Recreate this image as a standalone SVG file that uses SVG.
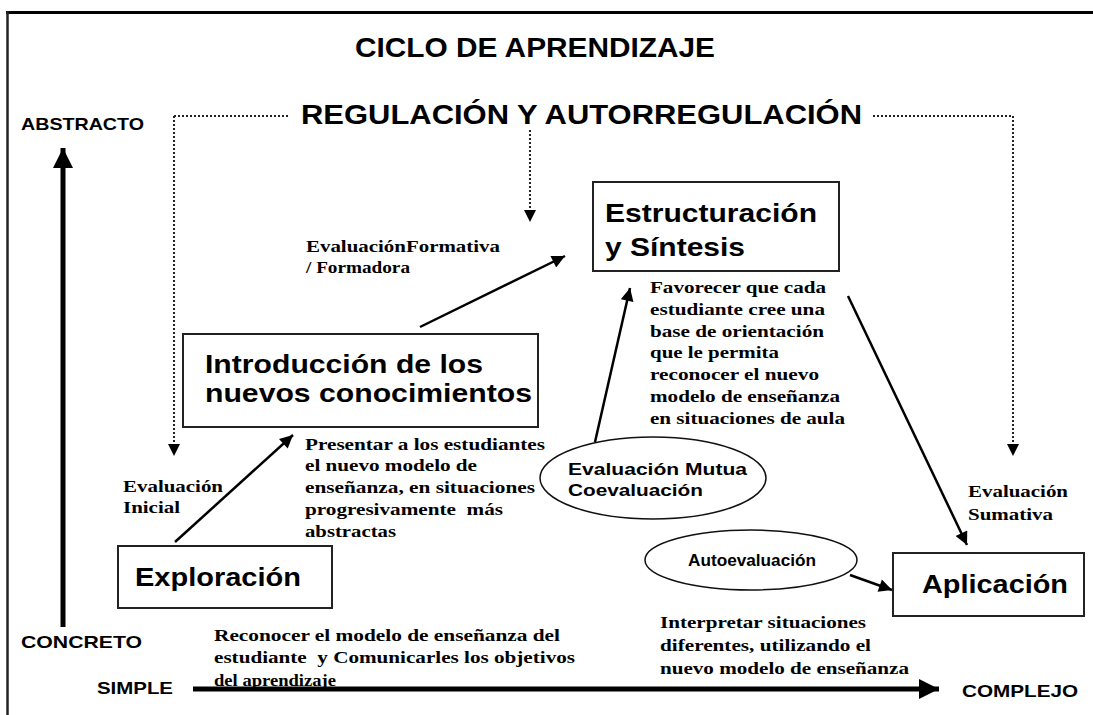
<svg xmlns="http://www.w3.org/2000/svg" width="1093" height="715" viewBox="0 0 1093 715">
<style>
.h{font-family:"Liberation Sans",Arial,sans-serif;font-weight:bold;fill:#000}
.t{font-family:"Liberation Serif","Times New Roman",serif;font-weight:bold;fill:#000;font-size:17px}
.box{fill:#fff;stroke:#222;stroke-width:2}
.ell{fill:#fff;stroke:#111;stroke-width:1.5}
.sol{stroke:#000;stroke-width:2.5;fill:none}
.dot{stroke:#222;stroke-width:2;stroke-dasharray:2 2;fill:none}
</style>
<defs>
<marker id="ah" viewBox="0 0 10 10" refX="10" refY="5" markerUnits="userSpaceOnUse" markerWidth="15" markerHeight="13" orient="auto"><path d="M0,0 L10,5 L0,10 Z" fill="#000"/></marker>
<marker id="dh" viewBox="0 0 10 10" refX="10" refY="5" markerUnits="userSpaceOnUse" markerWidth="12" markerHeight="12" orient="auto"><path d="M0,0 L10,5 L0,10 Z" fill="#000"/></marker>
<marker id="bh" viewBox="0 0 10 10" refX="10" refY="5" markerUnits="userSpaceOnUse" markerWidth="20" markerHeight="22" orient="auto"><path d="M0,0 L10,5 L0,10 Z" fill="#000"/></marker>
</defs>
<rect width="1093" height="715" fill="#fff"/>
<g id="frame">
<line x1="6" y1="12.5" x2="1093" y2="12.5" stroke="#000" stroke-width="3"/>
<line x1="7.5" y1="11" x2="7.5" y2="715" stroke="#222" stroke-width="2.5"/>
</g>
<g id="titles">
<text class="h" x="355" y="57" font-size="27" textLength="360" lengthAdjust="spacingAndGlyphs">CICLO  DE  APRENDIZAJE</text>
<text class="h" x="301" y="124" font-size="27" textLength="561" lengthAdjust="spacingAndGlyphs">REGULACIÓN  Y  AUTORREGULACIÓN</text>
</g>
<g id="axes-labels">
<text class="h" x="21" y="130" font-size="17" textLength="123" lengthAdjust="spacingAndGlyphs">ABSTRACTO</text>
<text class="h" x="21" y="648" font-size="17" textLength="121" lengthAdjust="spacingAndGlyphs">CONCRETO</text>
<text class="h" x="97" y="694" font-size="17" textLength="76" lengthAdjust="spacingAndGlyphs">SIMPLE</text>
<text class="h" x="962" y="697" font-size="17" textLength="116" lengthAdjust="spacingAndGlyphs">COMPLEJO</text>
</g>
<g id="annotations">
<text class="t" x="306" y="252" textLength="194" lengthAdjust="spacingAndGlyphs">EvaluaciónFormativa</text>
<text class="t" x="306" y="273" textLength="104" lengthAdjust="spacingAndGlyphs">/ Formadora</text>
<text class="t" x="123" y="492" textLength="100" lengthAdjust="spacingAndGlyphs">Evaluación</text>
<text class="t" x="123" y="513" textLength="57" lengthAdjust="spacingAndGlyphs">Inicial</text>
<text class="t" x="968" y="497" textLength="100" lengthAdjust="spacingAndGlyphs">Evaluación</text>
<text class="t" x="968" y="520" textLength="85" lengthAdjust="spacingAndGlyphs">Sumativa</text>
<text class="t" x="305" y="450" textLength="240" lengthAdjust="spacingAndGlyphs">Presentar a los estudiantes</text>
<text class="t" x="305" y="471" textLength="172" lengthAdjust="spacingAndGlyphs">el nuevo modelo de</text>
<text class="t" x="305" y="493" textLength="230" lengthAdjust="spacingAndGlyphs">enseñanza, en situaciones</text>
<text class="t" x="305" y="515" textLength="198" lengthAdjust="spacingAndGlyphs" xml:space="preserve">progresivamente  más</text>
<text class="t" x="305" y="537" textLength="91" lengthAdjust="spacingAndGlyphs">abstractas</text>
<text class="t" x="650" y="293" textLength="176" lengthAdjust="spacingAndGlyphs">Favorecer que cada</text>
<text class="t" x="650" y="315" textLength="175" lengthAdjust="spacingAndGlyphs">estudiante cree una</text>
<text class="t" x="650" y="337" textLength="174" lengthAdjust="spacingAndGlyphs">base de orientación</text>
<text class="t" x="650" y="358" textLength="129" lengthAdjust="spacingAndGlyphs">que le permita</text>
<text class="t" x="650" y="380" textLength="169" lengthAdjust="spacingAndGlyphs">reconocer el nuevo</text>
<text class="t" x="650" y="402" textLength="190" lengthAdjust="spacingAndGlyphs">modelo de enseñanza</text>
<text class="t" x="650" y="424" textLength="195" lengthAdjust="spacingAndGlyphs">en situaciones de aula</text>
<text class="t" x="214" y="641" textLength="346" lengthAdjust="spacingAndGlyphs">Reconocer el modelo de enseñanza del</text>
<text class="t" x="214" y="663" textLength="361" lengthAdjust="spacingAndGlyphs" xml:space="preserve">estudiante  y Comunicarles los objetivos</text>
<text class="t" x="214" y="686" textLength="122" lengthAdjust="spacingAndGlyphs">del aprendizaje</text>
<text class="t" x="660" y="628" textLength="206" lengthAdjust="spacingAndGlyphs">Interpretar situaciones</text>
<text class="t" x="660" y="651" textLength="211" lengthAdjust="spacingAndGlyphs">diferentes, utilizando el</text>
<text class="t" x="660" y="674" textLength="249" lengthAdjust="spacingAndGlyphs">nuevo modelo de enseñanza</text>
</g>
<g id="node-estructuracion">
<rect class="box" x="593" y="182" width="246" height="89"/>
<text class="h" x="605" y="222" font-size="26" textLength="212" lengthAdjust="spacingAndGlyphs">Estructuración</text>
<text class="h" x="605" y="256" font-size="26" textLength="140" lengthAdjust="spacingAndGlyphs">y Síntesis</text>
</g>
<g id="node-introduccion">
<rect class="box" x="183" y="334" width="355" height="93"/>
<text class="h" x="205" y="373" font-size="26" textLength="278" lengthAdjust="spacingAndGlyphs">Introducción de los</text>
<text class="h" x="205" y="402" font-size="26" textLength="327" lengthAdjust="spacingAndGlyphs">nuevos conocimientos</text>
</g>
<g id="node-exploracion">
<rect class="box" x="118" y="546" width="214" height="62"/>
<text class="h" x="135" y="586" font-size="26" textLength="166" lengthAdjust="spacingAndGlyphs">Exploración</text>
</g>
<g id="node-aplicacion">
<rect class="box" x="893" y="553" width="191" height="63"/>
<text class="h" x="922" y="593" font-size="26" textLength="146" lengthAdjust="spacingAndGlyphs">Aplicación</text>
</g>
<g id="node-evaluacion-mutua">
<ellipse class="ell" cx="653" cy="478" rx="113" ry="41"/>
<text class="h" x="568" y="475" font-size="17" textLength="179" lengthAdjust="spacingAndGlyphs">Evaluación Mutua</text>
<text class="h" x="568" y="496" font-size="17" textLength="135" lengthAdjust="spacingAndGlyphs">Coevaluación</text>
</g>
<g id="node-autoevaluacion">
<ellipse class="ell" cx="751" cy="560" rx="106" ry="30"/>
<text class="h" x="688" y="566" font-size="16" textLength="128" lengthAdjust="spacingAndGlyphs">Autoevaluación</text>
</g>
<g id="connectors">
<line class="dot" x1="174" y1="116" x2="288" y2="116"/>
<line class="dot" x1="174" y1="116" x2="174" y2="456" marker-end="url(#dh)"/>
<line class="dot" x1="530" y1="130" x2="530" y2="222" marker-end="url(#dh)"/>
<line class="dot" x1="873" y1="116" x2="1013" y2="116"/>
<line class="dot" x1="1013" y1="116" x2="1013" y2="456" marker-end="url(#dh)"/>
<line x1="63" y1="627" x2="63" y2="148" stroke="#000" stroke-width="5" marker-end="url(#bh)"/>
<line x1="193" y1="689" x2="939" y2="689" stroke="#000" stroke-width="5" marker-end="url(#bh)"/>
<line class="sol" x1="175" y1="542" x2="293" y2="435" marker-end="url(#ah)"/>
<line class="sol" x1="420" y1="327" x2="565" y2="256" marker-end="url(#ah)"/>
<line class="sol" x1="595" y1="442" x2="630" y2="288" marker-end="url(#ah)"/>
<line class="sol" x1="848" y1="296" x2="967" y2="545" marker-end="url(#ah)"/>
<line class="sol" x1="850" y1="575" x2="892" y2="590" marker-end="url(#ah)"/>
</g>
</svg>
